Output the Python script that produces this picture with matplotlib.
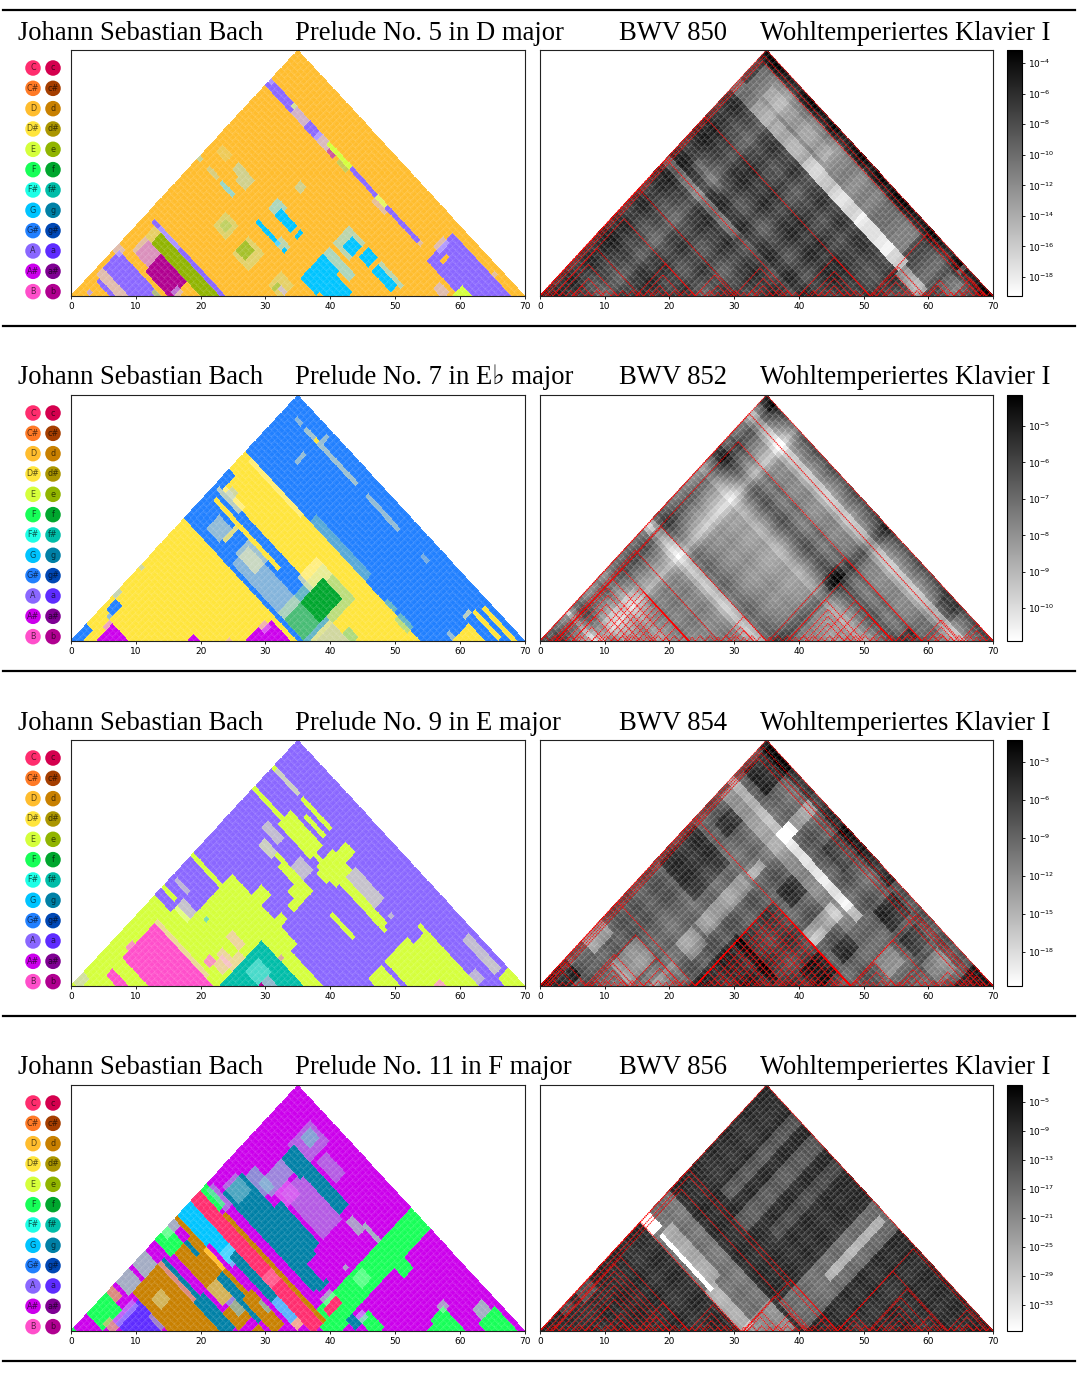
"""Four WTC preludes: key map on the left, p-value triangle on the right."""
import numpy as np
import matplotlib
matplotlib.use("Agg")
import matplotlib.pyplot as plt
from matplotlib.colors import LogNorm, to_rgb
from matplotlib.cm import ScalarMappable
from matplotlib.ticker import FixedLocator, NullLocator, FixedFormatter

W, H = 1078, 1373
N = 70

composer = "Johann Sebastian Bach"
collection = "Wohltemperiertes Klavier I"
preludes = ["Prelude No. 5 in D major", "Prelude No. 7 in E\u266d major",
            "Prelude No. 9 in E major", "Prelude No. 11 in F major"]
bwv = ["BWV 850", "BWV 852", "BWV 854", "BWV 856"]

major_keys = ["C", "C#", "D", "D#", "E", "F", "F#", "G", "G#", "A", "A#", "B"]
minor_keys = ["c", "c#", "d", "d#", "e", "f", "f#", "g", "g#", "a", "a#", "b"]
key_colors = {
    "C": "#ff2d6e", "c": "#d4004e", "C#": "#ff7a26", "c#": "#a53e00",
    "D": "#ffbd2e", "d": "#c88000", "D#": "#ffe53c", "d#": "#ab9600",
    "E": "#d5ff3c", "e": "#90b400", "F": "#17ff58", "f": "#00a62e",
    "F#": "#1dffe6", "f#": "#00bda8", "G": "#00c4ff", "g": "#0080a6",
    "G#": "#2180ff", "g#": "#0047b5", "A": "#8a67ff", "a": "#5e2cff",
    "A#": "#cc00ec", "a#": "#7f0093", "B": "#ff4fcb", "b": "#b00090",
}

# key regions: (start0, start1, end0, end1, key, strength)
regions_d = [
    (1, 9, 7.5, 9.2, "A", .4), (2, 7, 6.3, 7.5, "A", 1), (1, 14, 9.2, 14.3, "A", 1),
    (0.5, 2, 13, 15, "A", .4), (3, 8, 16, 20, "A", .35), (4.5, 9, 16, 20, "b", .55),
    (8.5, 15.6, 15.5, 20, "b", 1), (3, 5, 20, 23, "e", .3), (5, 23, 20, 23, "e", 1),
    (2, 24, 23, 24, "A", 1), (4, 10, 23, 24, "A", .7), (15, 17, 16, 18, "A", .4),
    (12, 14, 13, 14, "e", .7), (2.5, 3.5, 3, 4, "A", .7),
    (50.5, 67.7, 60, 67.7, "A", 1), (52, 53, 62, 64, "D", 1), (49, 51, 63, 66, "A", .4),
    (59, 62, 59, 62, "E", 1), (55, 58, 57, 59.5, "A", .4), (62, 63.5, 68, 69.5, "A", .3),
    (33, 38.5, 38, 45, "G", 1), (38.5, 42.7, 39.5, 44.5, "G", 1),
    (33.5, 41, 45, 47, "G", .5), (33, 38, 48, 53, "G", .4), (35, 38, 49, 52, "G", 1),
    (39.2, 42, 50.2, 53, "G", 1), (43, 49, 50.5, 52.5, "G", 1), (43, 50, 52.5, 53.5, "G", .4),
    (18, 25, 39, 40.2, "G", 1), (24, 27, 39.5, 41, "G", .4), (26, 27, 39, 40, "G", 1),
    (18, 21, 43, 46, "G", .5), (20, 25, 43.5, 45, "G", 1), (25.8, 27.5, 43.5, 45, "G", 1),
    (7, 11, 39, 40, "G", .6), (9, 12, 42.5, 45, "G", .25), (7, 9, 43.5, 45, "G", .25),
    (3, 6, 38.7, 40, "G", .2), (2.5, 5, 43, 45.5, "e", .2), (0, 1, 39, 40, "G", .3),
    (19.5, 21.5, 50.5, 52, "G", .25),
    (12.5, 16, 32, 35.7, "e", .45), (13.5, 15.5, 33, 35, "e", .7),
    (18.8, 23.6, 31, 36.4, "e", .4), (19.5, 22.5, 32, 35, "e", .9),
    (29, 33, 32, 36, "e", .35), (30, 31, 32, 34, "e", .8), (31, 33, 33, 34, "A", .4),
    (0, 8, 60, 62, "A", 1), (0, 1.5, 61.5, 62.5, "A", .3), (7.5, 8.5, 61, 62, "E", .7),
    (8, 12, 60, 62, "A", .6), (12, 16, 60, 62, "A", 1), (15, 19, 60, 62, "A", .5),
    (18.3, 25, 61, 62, "E", 1), (19, 21.5, 60, 61, "b", .8), (22, 25, 60, 61, "e", .7),
    (25, 33, 61, 62.3, "A", 1), (33, 37, 60, 61.5, "A", .3),
    (33, 36, 61, 62.3, "E", .8), (36, 46, 61, 62, "A", 1), (46, 47.5, 61, 62.5, "A", .3),
]
regions_eb = [
    (0, 35, 0, 35, "D#", 1), (0, 54, 49, 54, "D#", 1), (2, 54, 45, 49, "D#", 1),
    (36, 54, 43, 45, "D#", 1), (1, 8, 44, 46.5, "D#", .5),
    (2, 18, 53.3, 54.5, "D#", .3), (20, 37, 54, 56, "f", .25),
    (43, 46, 54, 55.5, "f", .4), (47, 51, 53.5, 55.5, "f", .4),
    (28, 38, 36, 50, "f", .4), (26, 31, 44, 50, "D#", .5),
    (30.5, 36.5, 36.5, 41.5, "f", .8), (30, 36.5, 41.5, 48.5, "f", 1),
    (37.5, 42.8, 37.5, 42.8, "D#", .7), (41, 44, 43, 45, "f", .5),
    (14, 30, 36.5, 41, "D#", .25), (13, 19, 38.5, 42, "D#", .35), (5.5, 9, 37.5, 41, "D#", .3),
    (2, 22, 42, 43, "D#", 1), (9.3, 10.2, 38.5, 42.5, "D#", .8),
    (3, 9, 43, 44, "G#", 1), (10, 27, 43, 44.2, "G#", 1), (0, 2, 45, 49, "G#", 1),
    (3, 5, 45.5, 47, "G#", .3),
    (4, 8.7, 4.5, 8.7, "A#", 1), (3, 4, 7, 8.7, "A#", .5), (18, 20, 18, 20, "A#", 1),
    (28, 33.8, 29, 33.8, "A#", 1), (27, 31, 27.5, 31, "A#", 1), (27, 29, 31.5, 33, "A#", .4),
    (24, 25, 24, 25.5, "A#", .3),
    (1, 3.5, 10, 13.5, "G#", 1), (0.5, 1.5, 13.5, 15.5, "G#", .4), (2.5, 3.5, 9.5, 10.5, "G#", .7),
    (0.3, 1, 21, 22, "G#", .3), (0, 1.8, 0, 4.7, "G#", 1),
    (6, 22, 66, 67, "D#", .35), (9, 10, 66, 67, "D#", 1), (9.7, 10.7, 67, 69, "D#", .3),
    (9, 10.5, 60.5, 63, "D#", .3), (3.5, 5, 66.5, 67.5, "D#", .25), (25, 35.5, 66, 67, "D#", .3),
    (42, 44, 66, 67.5, "D#", .2),
    (58, 66, 65.8, 67.2, "D#", 1), (59.5, 69, 67.7, 69.2, "D#", 1), (59, 64, 59, 63.8, "D#", 1),
    (57.5, 58.5, 64, 66, "D#", .5), (57, 59, 59, 60.5, "D#", .3),
]
regions_e = [
    (0, 4.7, 0, 26, "E", 1), (4.7, 9.5, 0, 28, "E", 1), (9.3, 24, 0, 41, "E", 1),
    (24, 40, 24, 39, "E", 1), (23, 29, 39, 40.8, "E", 1), (0, 4.5, 27.7, 28.8, "E", 1),
    (0, 10, 37.5, 38.5, "E", 1), (15, 18.5, 41, 44.5, "E", 1), (5, 9, 27, 30, "E", .4),
    (1, 5, 31, 32, "E", .3), (0, 2, 1, 4, "A", .3),
    (4, 23.5, 12.5, 22, "B", 1), (4, 10, 7.2, 9.5, "B", 1), (3.3, 4.2, 14, 16, "B", .8),
    (4, 20, 22, 23, "B", .3), (17.5, 19.5, 24.3, 26.5, "B", .8), (19, 22, 25, 28, "B", .35),
    (21, 25, 27, 31, "B", .3), (17, 21, 31, 33.5, "B", .35), (18, 21, 27.5, 29.5, "B", .35),
    (23.5, 36, 23.5, 36, "f#", 1), (25, 29, 29, 33, "F#", .25), (29, 32, 29, 32, "B", .35),
    (29.5, 30.5, 29.5, 30.5, "b", 1), (28, 29, 36, 37, "b", .5), (11, 12, 30, 31, "f#", .7),
    (45, 47.5, 52.5, 59, "E", 1), (47.5, 63.5, 52.5, 63, "E", 1), (45, 47, 62, 63, "E", 1),
    (56.5, 58, 56.5, 58.5, "B", .7), (45.2, 51, 47.5, 51, "E", 1),
    (64.8, 70, 67, 70, "E", 1), (54, 60, 67.5, 68.7, "E", .35), (60, 64, 67.5, 69, "E", .4),
    (60, 63, 63, 65, "E", .3), (0, 8, 62, 63, "E", .5), (0, 1, 62, 63, "E", 1),
    (9, 18, 62, 63, "E", 1), (12, 18, 60, 61, "E", 1), (0.5, 41, 56.5, 57.5, "E", 1),
    (9.5, 19.5, 55, 59.5, "E", 1), (7, 12, 52, 54.5, "E", .35), (17, 21, 50.5, 54, "E", .35),
    (27, 36, 58, 61, "E", .4), (22, 25, 54, 63, "E", 1), (21, 27, 55, 60, "E", 1),
    (26, 40, 56, 58, "E", 1), (9, 13, 49.5, 51, "E", .5), (13, 24, 49.7, 51.3, "E", 1),
    (15, 21, 49, 51.5, "E", 1), (20.5, 24, 47.5, 51, "E", 1), (22.5, 24, 45, 48, "E", 1),
    (22.5, 24, 41, 43, "E", 1), (30, 37.5, 50, 51, "E", 1), (39, 40.5, 59, 60, "E", .3),
]
regions_f = [
    (5, 11, 48, 52, "g", .6), (4, 27, 43, 49, "g", 1), (14.5, 26, 43, 51, "g", 1),
    (26, 32, 43, 46, "g", 1), (3, 8, 44, 48, "g", .3), (7, 13, 60, 67, "g", .25),
    (8, 12, 50, 58, "g", .5), (13, 26, 52, 58.5, "g", .25), (12.5, 16, 51.5, 55, "A#", .7),
    (8, 25, 58.5, 61, "g", 1), (8, 14, 57.5, 61, "g", 1), (8.5, 11, 63, 66, "g", .6),
    (14, 20, 62, 65.5, "g", .25),
    (0, 6, 40, 42, "F", 1), (7, 38, 40, 41.5, "d", 1), (1, 7, 41, 43, "g", .3),
    (0, 38, 37, 40, "C", 1), (22, 25, 37, 40, "C", .8), (0, 9, 33, 37, "G", 1),
    (7, 15, 34.5, 37, "G", 1), (12, 16, 34.5, 37, "G", .7), (14.5, 27, 35, 37, "g", 1),
    (27, 33, 35, 37, "G", .8), (33, 35, 35, 37, "D", .7),
    (4.5, 22.7, 14.7, 22.8, "d", 1), (8, 11, 17, 20, "d#", .5),
    (4, 15, 24, 25.5, "g", 1), (15, 25, 23.5, 26.3, "g", 1), (4.5, 15, 22.8, 24, "d", .7),
    (5, 20, 27.5, 33, "d", 1), (0, 30, 32, 33, "d", 1), (5, 9, 30.5, 31.5, "g", 1),
    (15, 28, 30.5, 31.7, "g", 1), (9, 13, 32, 33, "D", 1), (13, 15, 32.5, 33.5, "D", 1),
    (22, 32, 31.5, 34, "d", 1), (25, 28, 33, 34, "g", .5), (15, 20, 27, 30, "d#", .4),
    (21, 26, 26.3, 30.5, "d", 1), (20, 24, 28, 30, "g", .5), (28, 32, 27, 30.5, "d", 1),
    (0.5, 5, 26, 30, "F", 1), (0, 2, 28, 32, "F", .5), (0, 3, 25, 26, "A#", 1),
    (0, 4, 19.5, 23, "F", .5), (0, 3.2, 18, 19, "A#", 1), (0, 4, 14, 18, "F", .5),
    (0, 3, 11, 13.5, "d", .7), (0, 5, 5, 11, "F", 1), (0, 3, 2, 5, "A#", 1),
    (0, 1.2, 0, 1.5, "F", 1), (6, 14.5, 7.7, 14.7, "a", 1), (5, 7, 8, 14, "a", .4),
    (4.5, 7, 6, 8, "d", .6), (10, 14, 14, 15, "d#", .3),
    (35, 41.5, 41, 70, "F", 1), (38, 42, 39, 46, "F", 1), (36, 38, 42, 46.5, "C", 1),
    (34, 36.5, 43, 46, "F", .4), (36, 39, 51, 54, "F", .7), (32, 33, 44.5, 47, "g", 1),
    (41.5, 44, 44, 46, "g", 1), (43, 48.5, 46, 49, "F", 1), (42, 44, 46, 48, "A", .4),
    (27, 31, 58, 60, "F", .4), (30, 35, 60, 61, "F", .5), (41.5, 44, 59, 62, "F", 1),
    (33, 34, 51, 52, "F", .4), (54, 60.6, 57, 60.6, "F", 1), (55, 57, 55, 57.5, "F", 1),
    (53, 55, 60.5, 62, "F", .4), (62.5, 69, 64, 68.7, "F", 1), (59, 62, 65, 68, "F", .5),
]

# log10 p-value read per start and end position, plus local offsets in decades
start_d = [.5, 1, 1.5, 1.5, 1, .5, 0, 0, -.5, -1,
           -1, 0, .5, .5, 1, 1, .5, 0, 0, 0,
           .5, 1, .5, 0, -.5, -.5, 0, .5, .5, 1,
           1, .5, 0, 0, .5, 1, 1, .5, 0, .5,
           1, 1, 1, 1, .5, .5, 0, 0, 0, 0,
           .5, 1, 1, .5, 0, -.5, -1, -1, 0, .5,
           1, .5, 0, -.5, -.5, 0, .5, 1, 1, 1]
end_d = [1.5, 1.5, 1, 1, .5, .5, 1, 1, .5, 0,
         0, .5, 1, 1, .5, .5, 1, 1, 1.5, 1.5,
         1, .5, 1, 1, .5, 0, 0, .5, 1, 1,
         .5, 0, 0, .5, 1, 1, 1.5, 1, .5, 0,
         1.5, 1.5, 1, 0, 0, .5, 1, 1.5, 1.5, 1,
         1.5, 1, .5, .5, 0, .5, 1, 1, .5, 0,
         0, 0, 0, 0, 0, 0, 0, .5, 2, 3]
offsets_d = [
    (0, 6, 59, 62, -3), (6, 12, 59, 62, -4.5), (12, 22, 59, 62, -6), (22, 30, 59, 62, -7.5),
    (30, 38, 59, 62, -9), (38, 48, 59, 62, -10), (48, 52, 59, 62, -8), (52, 59, 58, 61, -5),
    (2, 38, 62, 68, -3.5), (6, 25, 63, 66.5, -1.5), (38, 50, 62, 68, -2.5),
    (60, 64, 63, 67, -2), (61, 62, 68, 70, -4), (0, 22, 38.5, 40.5, -2.5), (5, 13, 42, 44, -1.5),
]
start_eb = [.3, .6, 1, .9, .5, .2, -.1, -.4, -.6, -.9,
            -.4, -.1, .1, 0, .1, .2, .1, 0, 0, .1,
            .2, .1, 0, -.1, -.1, 0, .1, .2, .2, .1,
            0, .1, .2, .2, .3, .5, .9, 1.1, .8, .4,
            .2, .1, .1, 0, 0, .1, .1, .2, .2, .1,
            0, .1, .1, .2, .3, .5, .6, .5, .6, .7,
            .4, .2, .1, .1, .2, .3, .3, .3, .3, .3]
end_eb = [.8, .8, .5, .6, .3, .1, -.2, -.3, -1, -.3,
          .3, .4, .1, -.2, -.3, -.3, -.2, 0, -.3, -.4,
          -.1, .1, .2, .3, .2, .3, .4, .3, .2, .3,
          .2, 0, -.6, -1.1, -.8, .4, .7, .6, .4, .2,
          .1, 0, -.1, 0, -.1, -.2, -.3, -.3, -.3, -.7,
          -.5, -.1, .3, .7, 1, .9, .5, .3, .6, .2,
          .1, .1, .1, -.5, -1, -1.1, -.1, .3, .6, 1]
offsets_eb = [
    (8, 11, 35, 68, -.3), (7, 13, 12, 22, -.5), (0, 2, 32, 34, -.8), (35, 38, 52, 57, .8),
    (0, 3, 53, 56, .5), (56, 61, 66, 69, .6), (55, 58, 56.5, 59, .8), (0, 3, 68, 70, 1),
    (0, 1, 8, 9, -.8),
]
start_e = [1, .5, .5, 1, 1, .5, 1, 1, .5, 0,
           0, -.5, -.5, 0, 0, -1, -1, -1, 0, .5,
           1, 1, .5, .5, 1, 1, .5, .5, 0, 0,
           .5, 1, 1, .5, 0, -.5, 0, .5, 1, 1,
           .5, .5, 1, 1, .5, 0, 0, .5, 1, 1,
           .5, .5, 0, 0, .5, 1, 1, .5, 0, 0,
           .5, .5, 0, .5, 1, 1, 1, 1, 1, 1]
end_e = [1, 1, .5, .5, 0, 0, .5, 1, 1, .5,
         0, 0, 0, -.5, -.5, 0, .5, .5, 0, 0,
         .5, 1, 1, .5, .5, 1, 1, .5, 0, 0,
         .5, 1, 1, 1, .5, 0, .5, 1, 1, 1,
         .5, 0, 0, .5, 1, 1, .5, 0, 0, 0,
         .5, 1, 1, .5, 0, 0, 0, 0, 0, 0,
         0, .5, 1, 1, .5, 0, 0, .5, 1, 1]
offsets_e = [
    (1, 22, 55.5, 58.5, -3.5), (22, 40, 55, 58.5, -2.5), (0, 15, 58.5, 60, -6),
    (15, 37, 58.5, 60, -10), (37, 40, 58.5, 60, -7), (15.5, 18.5, 58, 62, -10),
    (33, 37, 48, 57, -4.5), (35, 37, 48, 52, -2), (15.5, 18.5, 62, 68, -3), (1, 12, 36, 47, 3),
    (1, 8, 62, 70, 3.5), (4, 8, 50, 55, 2.5), (23, 36, 23, 38, 3.5), (24, 46, 36, 48, 2),
    (38, 44, 42, 48, 2.5), (23, 28, 50, 55, 3), (40, 44, 50, 55, 3), (41, 47, 62, 68, 3.5),
    (49, 54, 62, 67, 2.5), (64, 70, 64, 70, 4), (24, 31, 63, 70, 2), (0, 40, 68, 70, 3),
    (0, 4, 13, 19, -4.5), (0, 2, 6, 9, -2.5), (8, 14, 14, 22, -3), (17, 22, 17, 24, -2.5),
    (15, 20, 27, 32, -3), (15, 19, 33, 47, -3), (48, 53, 55, 60, -3), (56, 62, 62, 67, -3),
    (16.5, 18.5, 48, 52, -4), (0, 5, 0, 8, 4),
]
start_f = [1, 1, .5, .5, 0, 0, .5, 1, 1, .5,
           0, .5, 1, 1, .5, 0, 0, 0, .5, 1,
           1, .5, 0, 0, .5, 1, 1, .5, .5, 1,
           1, .5, 0, 0, .5, .5, 0, 0, .5, .5,
           1, 1, 1, .5, .5, 1, 1, .5, 0, 0,
           .5, 1, 1, .5, .5, 1, 1, .5, 0, .5,
           1, 1, .5, .5, 0, .5, 1, 1, 1, 1]
end_f = [1, 1, 1, .5, .5, 1, 1, .5, .5, 0,
         0, .5, 1, 1, .5, .5, 1, 1, 1, .5,
         .5, 1, 1, 1, .5, 0, .5, 1, 1, 1,
         .5, .5, 0, 0, .5, .5, 1, .5, 0, 0,
         .5, 1, 1, 1, .5, .5, 1, 1, .5, 0,
         0, .5, 1, .5, 0, .5, 1, 1, .5, 0,
         0, .5, 1, 1, .5, .5, 1, 1, 1, 1]
offsets_f = [
    (0, 39, 31, 40, -9), (20, 32, 31, 34, -8), (5, 20, 33.5, 36, -7),
    (5, 21, 32, 33, -20), (0, 4, 31, 34.5, -20), (31, 40, 31, 40, -3),
    (33, 41, 41, 70, -8), (36.5, 38.2, 52, 69, -9), (8.5, 11.5, 48, 70, -5),
    (14, 18.5, 46, 70, -5), (21, 24, 50, 70, -3), (0, 3, 11, 15, -6), (0, 2, 6, 9, -5),
]

# red outlines: (start, end) of each segment
spans_d = [(0, 70), (.5, 68.8), (1, 67.8), (0, 51), (0, 39), (0, 30.5), (2, 24), (2, 15.5),
           (3, 12), (5, 10), (5, 8), (14.8, 24), (16, 22), (17, 20), (24, 30), (26, 29),
           (30, 38), (32, 37), (33, 36), (40, 51), (42, 49), (43, 48), (44, 47),
           (51, 68.6), (51.3, 59.5), (52, 58), (53, 57), (59.5, 64), (60, 63), (64, 69), (65, 68)]
spans_eb = [(0, 70), (0, 64.7), (2.3, 59), (2.5, 35), (1.8, 27.6), (2.4, 23), (2.4, 20),
            (3, 18), (4, 17), (5, 15.5), (5, 14), (5, 12), (6, 10), (8, 23), (9, 23), (10, 23),
            (11, 23), (12, 23), (13, 23), (14, 23), (15, 23), (17, 23), (19, 23),
            (28, 35), (29, 33), (30, 33), (35.3, 59), (38.2, 54.5), (38.2, 50), (40, 49),
            (41, 48), (42, 47), (43, 54.5), (45, 54.5), (47, 54.5), (49, 54.5), (51, 54.5),
            (55, 59), (56, 58), (59, 65), (60, 64), (61, 63), (65, 70), (66, 69)]
spans_e = [(0, 70), (.5, 68.5), (1, 67.3), (1.5, 66.2), (0, 48), (0, 24), (.5, 7.3), (1, 5.5),
           (7.5, 22), (7, 16), (8, 14.5), (9, 13.5), (10, 13), (14, 22), (16, 21),
           (24, 48), (24, 46), (24, 44), (24, 42.5), (24, 41), (24, 39.5), (24, 38), (24, 37),
           (24, 35.5), (24, 34), (24, 32.5), (24, 31), (24, 29.5), (24, 28),
           (26, 48), (27, 48), (28, 48), (29, 48), (30, 48), (31, 48), (32, 48), (33, 48),
           (34, 48), (35, 48), (36, 48), (37, 48), (38, 48), (39, 48), (40, 48), (41, 48),
           (42, 48), (43, 48), (44, 48), (45, 48), (46, 48),
           (48, 68), (48, 61), (48.4, 55), (50, 54), (55.3, 60),
           (56, 59), (61, 65), (62, 64), (65, 70), (66, 69)]
spans_f = [(0, 70), (0, 46), (1, 45), (1.7, 42), (0, 31), (2, 23), (2, 21), (3, 20), (4, 19),
           (5, 18), (6, 17), (7, 16), (7, 14), (8, 12), (10, 15), (11, 14), (15, 23), (16, 20),
           (23, 30.5), (24, 29), (25, 28), (31.3, 41.3), (31.5, 46), (31.5, 37), (32, 36),
           (36, 41), (37, 40), (42, 46), (46, 69.4), (46, 63), (46, 51), (47, 50),
           (50.7, 62.7), (51, 60.5), (52, 59), (53, 58), (54, 57), (58, 62), (63, 69),
           (64, 68), (65, 67)]
bottom_steps = [0, 1.5, 3, 4, 5.5, 7, 8, 9.5, 11, 12, 13.5, 15, 16, 17.5, 19, 20, 21.5, 23,
                24, 25.5, 27, 28, 29.5, 31, 32, 33.5, 35, 36, 37.5, 39, 40, 41.5, 43, 44,
                45.5, 47, 48, 49.5, 51, 52, 53.5, 55, 56, 57.5, 59, 60, 61.5, 63, 64, 65.5,
                67, 68, 69, 70]

panels = [
    dict(base="D", regions=regions_d, start=start_d, end=end_d, offsets=offsets_d, level=-8.5, gain=1.3,
         spans=spans_d, lim=(-19.24, -3.15), ticks=[-18, -16, -14, -12, -10, -8, -6, -4]),
    dict(base="G#", regions=regions_eb, start=start_eb, end=end_eb, offsets=offsets_eb, level=-7.9, gain=1.5,
         spans=spans_eb, lim=(-10.9, -4.15), ticks=[-10, -9, -8, -7, -6, -5]),
    dict(base="A", regions=regions_e, start=start_e, end=end_e, offsets=offsets_e, level=-9.5, gain=1.4,
         spans=spans_e, lim=(-20.7, -1.26), ticks=[-18, -15, -12, -9, -6, -3]),
    dict(base="A#", regions=regions_f, start=start_f, end=end_f, offsets=offsets_f, level=-10, gain=1.5,
         spans=spans_f, lim=(-36.6, -2.66), ticks=[-33, -29, -25, -21, -17, -13, -9, -5]),
]

ROW_STEP = 345
X_TICKS = list(range(0, 71, 10))
RED = dict(color="red", lw=.75, ls=(0, (1.2, .8)))

u = np.arange(N + 1)
U, V = np.meshgrid(u, u, indexing="ij")
MESH_X = (U + V) / 2
MESH_Y = V - U
I, J = np.meshgrid(np.arange(N), np.arange(N), indexing="ij")
INVALID = J < I


def cells(s0, s1, e0, e1):
    return (I + .5 >= s0) & (I + .5 < s1) & (J + .5 >= e0) & (J + .5 < e1)


def key_grid(base, regions):
    rgb = np.empty((N, N, 4))
    rgb[..., :3] = to_rgb(key_colors[base])
    rgb[..., 3] = 1.0
    for s0, s1, e0, e1, key, strength in regions:
        m = cells(s0, s1, e0, e1)
        mixed = strength * np.array(to_rgb(key_colors[key])) + (1 - strength) * rgb[m, :3]
        haze = 4 * strength * (1 - strength) * .35
        rgb[m, :3] = mixed + haze * (1 - mixed)
    rgb[INVALID, 3] = 0.0
    return rgb


def pvalue_grid(level, gain, start, end, offsets):
    exponent = level + gain * (np.asarray(start)[I] + np.asarray(end)[J])
    for s0, s1, e0, e1, delta in offsets:
        exponent[cells(s0, s1, e0, e1)] += delta
    return np.ma.masked_where(INVALID, 10.0 ** exponent)


def px_axes(fig, x0, y0, x1, y1):
    return fig.add_axes([x0 / W, 1 - y1 / H, (x1 - x0) / W, (y1 - y0) / H])


def style_triangle(ax):
    ax.set_xlim(0, N)
    ax.set_ylim(0, N)
    ax.set_yticks([])
    ax.set_xticks(X_TICKS)
    ax.tick_params(axis="x", length=2.5, width=.6, labelsize=6.5, pad=2)
    for sp in ax.spines.values():
        sp.set_linewidth(.8)
        sp.set_color("#222222")


fig = plt.figure(figsize=(W / 100, H / 100), dpi=100)
page = fig.add_axes([0, 0, 1, 1])
page.set_xlim(0, W)
page.set_ylim(H, 0)
page.axis("off")

serif = ["Liberation Serif", "DejaVu Serif", "DejaVu Sans"]
page.plot([3, 1075], [10, 10], color="black", lw=1.6)

for r, p in enumerate(panels):
    dy = r * ROW_STEP
    base_y = 39.5 + dy
    page.text(18, base_y, composer, family=serif, fontsize=19.2, va="baseline")
    page.text(295, base_y, preludes[r], family=serif, fontsize=19.2, va="baseline")
    page.text(619, base_y, bwv[r], family=serif, fontsize=19.2, va="baseline")
    page.text(760, base_y, collection, family=serif, fontsize=19.2, va="baseline")
    page.plot([3, 1075], [326 + dy, 326 + dy], color="black", lw=1.6)

    for i, (maj, mnr) in enumerate(zip(major_keys, minor_keys)):
        cy = 68 + dy + 20.33 * i
        page.scatter([33, 53], [cy, cy], s=125, c=[key_colors[maj], key_colors[mnr]], linewidths=0)
        page.text(33, cy, maj, fontsize=5.8, ha="center", va="center", color="#000000", alpha=.65)
        page.text(53, cy, mnr, fontsize=5.8, ha="center", va="center", color="#000000", alpha=.65)

    ax = px_axes(fig, 71, 50 + dy, 524.5, 296 + dy)
    ax.pcolormesh(MESH_X, MESH_Y, key_grid(p["base"], p["regions"]),
                  edgecolors=(1, 1, 1, .07), linewidth=.2)
    style_triangle(ax)

    ax2 = px_axes(fig, 540, 50 + dy, 993, 296 + dy)
    norm = LogNorm(10.0 ** p["lim"][0], 10.0 ** p["lim"][1])
    ax2.pcolormesh(MESH_X, MESH_Y,
                   pvalue_grid(p["level"], p["gain"], p["start"], p["end"], p["offsets"]),
                   cmap="gray_r", norm=norm, edgecolors=(1, 1, 1, .1), linewidth=.2)
    style_triangle(ax2)
    for a, b in p["spans"]:
        ax2.plot([a, (a + b) / 2, b], [0, b - a, 0], **RED)
    for a, b in zip(bottom_steps[:-1], bottom_steps[1:]):
        ax2.plot([a, (a + b) / 2, b], [0, b - a, 0], **RED)

    cax = px_axes(fig, 1007, 50 + dy, 1022, 296 + dy)
    cb = fig.colorbar(ScalarMappable(norm=norm, cmap="gray_r"), cax=cax)
    cb.outline.set_linewidth(.8)
    cb.ax.yaxis.set_major_locator(FixedLocator([10.0 ** t for t in p["ticks"]]))
    cb.ax.yaxis.set_major_formatter(FixedFormatter([f"$10^{{{t}}}$" for t in p["ticks"]]))
    cb.ax.yaxis.set_minor_locator(NullLocator())
    cb.ax.tick_params(axis="y", length=2.5, width=.6, labelsize=6.5, pad=2)

fig.savefig("out.png", dpi=100)
